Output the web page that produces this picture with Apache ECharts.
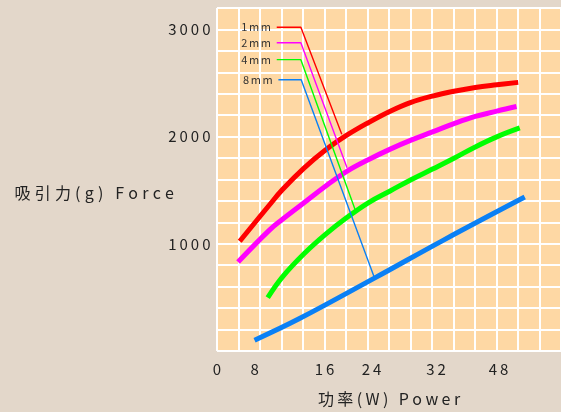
<!DOCTYPE html>
<html>
<head>
<meta charset="utf-8">
<script src="https://cdn.jsdelivr.net/npm/echarts@6/dist/echarts.min.js"></script>
<style>
html,body{margin:0;padding:0;background:#e3d7ca;}
#c{width:561px;height:412px;}
</style>
</head>
<body>
<div id="c"></div>
<script>
// ---- data ----
const powerTicks = ['0', '8', '16', '24', '32', '48'];
const powerTickAt = [0, 5.6, 16, 23, 32.6, 41.9];
const forceTicks = [1000, 2000, 3000];
const gapNames = ['1mm', '2mm', '4mm', '8mm'];

const power1mm = [3.38, 7.80, 9.75, 12.95, 16.14, 19.32, 22.51, 25.70, 28.88, 32.07, 35.27, 38.44, 41.64, 44.83];
const force1mm = [1024, 1362, 1506, 1706, 1875, 2013, 2130, 2235, 2320, 2378, 2423, 2459, 2484, 2506];

const power2mm = [3.13, 7.80, 9.75, 12.95, 16.14, 19.32, 22.51, 25.70, 28.88, 32.07, 35.27, 38.44, 41.64, 44.58];
const force2mm = [830, 1128, 1229, 1383, 1537, 1676, 1784, 1881, 1967, 2044, 2121, 2188, 2238, 2281];

const power4mm = [7.55, 9.75, 12.95, 16.14, 19.32, 22.51, 25.70, 28.88, 32.07, 35.27, 38.44, 41.64, 45.06];
const force4mm = [498, 692, 907, 1088, 1245, 1383, 1491, 1598, 1697, 1798, 1904, 1998, 2081];

const power8mm = [5.59, 12.21, 23.50, 33.79, 45.80];
const force8mm = [101, 300, 682, 1037, 1436];

// legend leader lines (label anchor -> elbow -> curve)
const leaderX1mm = [8.89, 12.48, 18.57];
const leaderY1mm = [3021, 3021, 2022];
const leaderX2mm = [8.89, 12.48, 19.35];
const leaderY2mm = [2876, 2876, 1709];
const leaderX4mm = [8.89, 12.48, 20.59];
const leaderY4mm = [2718, 2718, 1313];
const leaderX8mm = [9.14, 12.53, 23.39];
const leaderY8mm = [2531, 2531, 690];

// ---- styling ----
const FONT = 'Noto Sans CJK JP';
const TXT = '#222';
const colors = ['#ff0000', '#ff00ff', '#00ff00', '#0a80f5'];

function spaced(s) {
  return s.split('').map(function (ch) { return '{s|' + ch + '}'; }).join('');
}
function zip(xs, ys) { return xs.map(function (x, i) { return [x, ys[i]]; }); }

const curves = [
  zip(power1mm, force1mm),
  zip(power2mm, force2mm),
  zip(power4mm, force4mm),
  zip(power8mm, force8mm)
];
const leaders = [
  zip(leaderX1mm, leaderY1mm),
  zip(leaderX2mm, leaderY2mm),
  zip(leaderX4mm, leaderY4mm),
  zip(leaderX8mm, leaderY8mm)
];

const series = [];
curves.forEach(function (d, i) {
  series.push({
    type: 'line', name: gapNames[i], data: d, smooth: 0.4, symbol: 'none',
    lineStyle: { color: colors[i], width: 5 }, z: 3, silent: true
  });
});
leaders.forEach(function (d, i) {
  const data = d.map(function (p, j) {
    if (j === 0) {
      return {
        value: p,
        label: {
          show: true, position: 'left', distance: 5,
          formatter: spaced(gapNames[i]),
          fontSize: 11, color: '#333', fontFamily: FONT,
          rich: { s: { padding: [0, 0.8, 0, 0.8] } }
        }
      };
    }
    return p;
  });
  series.push({
    type: 'line', name: gapNames[i] + ' leader', data: data, smooth: false,
    symbol: 'circle', symbolSize: 0, showSymbol: true,
    itemStyle: { color: colors[i] },
    lineStyle: { color: colors[i], width: 1.4 }, z: 4, silent: true
  });
});

const chart = echarts.init(document.getElementById('c'), null, { renderer: 'canvas' });
chart.setOption({
  animation: false,
  backgroundColor: '#e3d7ca',
  textStyle: { fontFamily: FONT },
  grid: {
    left: 217, right: -4, top: 8, bottom: 57,
    show: true, backgroundColor: '#fed8a4', borderWidth: 0
  },
  xAxis: {
    type: 'value', min: 0, max: 51.2, interval: 3.2,
    axisLine: { show: false }, axisTick: { show: false },
    splitLine: { show: true, lineStyle: { color: '#ffffff', width: 2 } },
    axisLabel: {
      customValues: powerTickAt,
      margin: 11, fontSize: 15, color: TXT, fontFamily: FONT,
      formatter: function (v) {
        const k = powerTickAt.indexOf(v);
        return k >= 0 ? spaced(powerTicks[k]) : '';
      },
      rich: { s: { padding: [0, 1.5, 0, 1.5] } }
    },
    name: spaced('功率(W) Power'),
    nameLocation: 'middle', nameGap: 40, nameMoveOverlap: false,
    nameTextStyle: {
      fontSize: 16, color: TXT, fontFamily: FONT,
      rich: { s: { padding: [0, 1.7, 0, 1.7] } }
    }
  },
  yAxis: {
    type: 'value', min: 0, max: 3200, interval: 200,
    axisLine: { show: false }, axisTick: { show: false },
    splitLine: { show: true, lineStyle: { color: '#ffffff', width: 2 } },
    axisLabel: {
      customValues: forceTicks,
      margin: 5, fontSize: 15, color: TXT, fontFamily: FONT,
      formatter: function (v) { return spaced(String(v)); },
      rich: { s: { padding: [0, 1.5, 0, 1.5] } }
    },
    name: spaced('吸引力(g) Force'),
    nameLocation: 'middle', nameRotate: 0, nameGap: 41, nameMoveOverlap: false,
    nameTextStyle: {
      fontSize: 16, color: TXT, fontFamily: FONT, align: 'right',
      padding: [27, 0, 0, 0],
      rich: { s: { padding: [0, 2.1, 0, 2.1] } }
    }
  },
  series: series
});
</script>
</body>
</html>
